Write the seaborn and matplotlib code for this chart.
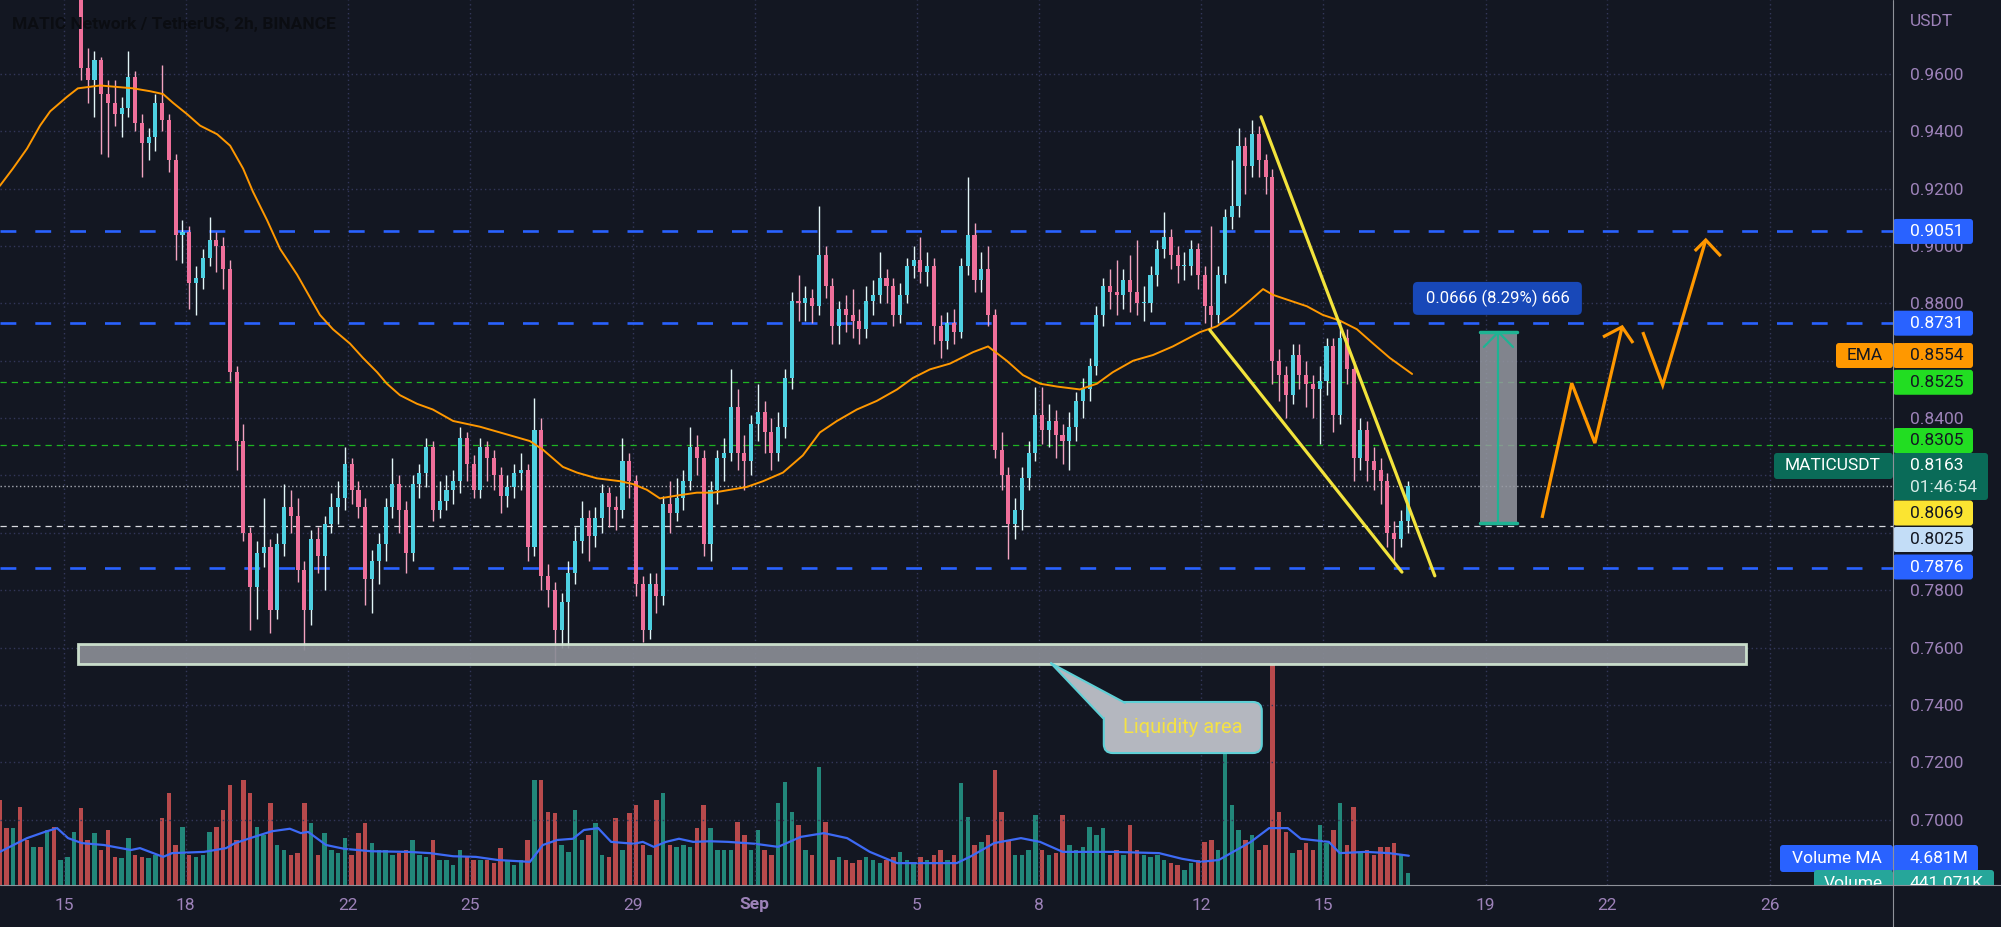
"""
MATIC / USDT 2h chart (TradingView style) rebuilt with seaborn + matplotlib.
Candles are read off the screenshot and kept at 4h resolution.
"""

import numpy as np
import pandas as pd
import seaborn as sns
import matplotlib.pyplot as plt
import matplotlib.dates as mdates
from matplotlib.patches import FancyBboxPatch, Polygon, Rectangle
from matplotlib.lines import Line2D

# -------------------------------
# Data
# -------------------------------
first_open = 0.995
candle_start = "2021-08-15 10:00"   # centre of first 4h candle

close = [
    0.962, 0.958, 0.965, 0.953, 0.950, 0.946, 0.948, 0.959, 0.943, 0.936,
    0.938, 0.950, 0.944, 0.930, 0.904, 0.905, 0.887, 0.889, 0.896, 0.902,
    0.900, 0.892, 0.856, 0.832, 0.800, 0.781, 0.793, 0.795, 0.773, 0.796,
    0.809, 0.806, 0.787, 0.773, 0.798, 0.792, 0.803, 0.809, 0.812, 0.824,
    0.815, 0.809, 0.784, 0.790, 0.796, 0.809, 0.817, 0.808, 0.793, 0.817,
    0.821, 0.830, 0.808, 0.811, 0.815, 0.818, 0.833, 0.824, 0.815, 0.830,
    0.826, 0.820, 0.813, 0.816, 0.821, 0.822, 0.795, 0.836, 0.785, 0.780,
    0.766, 0.776, 0.786, 0.797, 0.805, 0.799, 0.805, 0.814, 0.809, 0.808,
    0.825, 0.818, 0.782, 0.766, 0.782, 0.778, 0.810, 0.807, 0.812, 0.818,
    0.830, 0.826, 0.796, 0.815, 0.826, 0.828, 0.844, 0.828, 0.825, 0.838,
    0.842, 0.835, 0.828, 0.837, 0.854, 0.881, 0.880, 0.882, 0.879, 0.897,
    0.886, 0.872, 0.878, 0.876, 0.874, 0.871, 0.881, 0.883, 0.889, 0.886,
    0.876, 0.883, 0.893, 0.895, 0.891, 0.893, 0.872, 0.867, 0.873, 0.870,
    0.893, 0.904, 0.888, 0.892, 0.876, 0.829, 0.820, 0.803, 0.808, 0.819,
    0.828, 0.841, 0.836, 0.839, 0.834, 0.832, 0.837, 0.846, 0.850, 0.858,
    0.876, 0.886, 0.884, 0.883, 0.888, 0.884, 0.880, 0.880, 0.890, 0.899,
    0.903, 0.897, 0.893, 0.893, 0.899, 0.890, 0.879, 0.876, 0.890, 0.910,
    0.914, 0.935, 0.928, 0.939, 0.930, 0.924, 0.860, 0.855, 0.848, 0.862,
    0.855, 0.852, 0.850, 0.853, 0.865, 0.841, 0.868, 0.857, 0.826, 0.836,
    0.825, 0.822, 0.818, 0.800, 0.798, 0.804, 0.8163,
]

high = [
    1.000, 0.969, 0.968, 0.966, 0.958, 0.958, 0.952, 0.968, 0.961, 0.946,
    0.941, 0.953, 0.963, 0.946, 0.932, 0.909, 0.907, 0.893, 0.899, 0.910,
    0.905, 0.903, 0.895, 0.858, 0.838, 0.802, 0.797, 0.812, 0.798, 0.800,
    0.817, 0.815, 0.812, 0.790, 0.801, 0.802, 0.806, 0.814, 0.818, 0.830,
    0.826, 0.818, 0.812, 0.794, 0.800, 0.812, 0.826, 0.820, 0.811, 0.820,
    0.824, 0.833, 0.832, 0.818, 0.820, 0.822, 0.837, 0.835, 0.827, 0.833,
    0.832, 0.829, 0.823, 0.820, 0.824, 0.828, 0.824, 0.847, 0.840, 0.789,
    0.783, 0.779, 0.790, 0.802, 0.811, 0.808, 0.809, 0.817, 0.816, 0.813,
    0.833, 0.828, 0.820, 0.785, 0.786, 0.786, 0.813, 0.818, 0.819, 0.822,
    0.837, 0.834, 0.829, 0.818, 0.829, 0.833, 0.857, 0.850, 0.834, 0.841,
    0.852, 0.846, 0.840, 0.842, 0.857, 0.884, 0.890, 0.886, 0.885, 0.914,
    0.900, 0.889, 0.881, 0.883, 0.885, 0.878, 0.886, 0.888, 0.898, 0.892,
    0.889, 0.887, 0.896, 0.900, 0.903, 0.898, 0.896, 0.876, 0.877, 0.878,
    0.896, 0.924, 0.908, 0.898, 0.900, 0.878, 0.835, 0.823, 0.812, 0.823,
    0.832, 0.851, 0.851, 0.845, 0.843, 0.838, 0.842, 0.849, 0.854, 0.861,
    0.879, 0.889, 0.892, 0.895, 0.892, 0.897, 0.902, 0.886, 0.893, 0.902,
    0.912, 0.906, 0.900, 0.898, 0.902, 0.901, 0.893, 0.907, 0.893, 0.913,
    0.930, 0.941, 0.938, 0.944, 0.942, 0.932, 0.927, 0.864, 0.858, 0.866,
    0.866, 0.860, 0.855, 0.858, 0.868, 0.868, 0.874, 0.871, 0.860, 0.840,
    0.839, 0.830, 0.826, 0.821, 0.804, 0.808, 0.818,
]

low = [
    0.958, 0.950, 0.945, 0.932, 0.931, 0.942, 0.938, 0.945, 0.940, 0.924,
    0.930, 0.933, 0.940, 0.926, 0.895, 0.894, 0.878, 0.876, 0.885, 0.893,
    0.891, 0.885, 0.853, 0.822, 0.797, 0.766, 0.770, 0.788, 0.765, 0.770,
    0.792, 0.800, 0.783, 0.759, 0.768, 0.786, 0.780, 0.800, 0.803, 0.808,
    0.810, 0.805, 0.775, 0.772, 0.782, 0.790, 0.805, 0.800, 0.786, 0.790,
    0.812, 0.816, 0.804, 0.805, 0.808, 0.810, 0.814, 0.818, 0.812, 0.812,
    0.818, 0.815, 0.807, 0.809, 0.812, 0.815, 0.790, 0.792, 0.780, 0.774,
    0.754, 0.760, 0.760, 0.782, 0.793, 0.790, 0.795, 0.800, 0.802, 0.801,
    0.805, 0.812, 0.778, 0.762, 0.763, 0.772, 0.775, 0.800, 0.804, 0.808,
    0.815, 0.820, 0.792, 0.790, 0.810, 0.818, 0.825, 0.822, 0.815, 0.820,
    0.832, 0.828, 0.822, 0.825, 0.833, 0.850, 0.874, 0.874, 0.873, 0.876,
    0.882, 0.866, 0.866, 0.870, 0.868, 0.866, 0.868, 0.876, 0.880, 0.880,
    0.872, 0.873, 0.880, 0.889, 0.887, 0.886, 0.866, 0.861, 0.864, 0.866,
    0.868, 0.890, 0.884, 0.884, 0.872, 0.826, 0.815, 0.791, 0.798, 0.801,
    0.815, 0.825, 0.831, 0.830, 0.826, 0.824, 0.822, 0.832, 0.840, 0.846,
    0.855, 0.872, 0.878, 0.876, 0.878, 0.877, 0.876, 0.874, 0.877, 0.886,
    0.896, 0.892, 0.887, 0.888, 0.890, 0.885, 0.873, 0.871, 0.873, 0.887,
    0.906, 0.910, 0.918, 0.924, 0.924, 0.918, 0.852, 0.846, 0.840, 0.845,
    0.850, 0.844, 0.840, 0.831, 0.848, 0.835, 0.838, 0.852, 0.818, 0.822,
    0.818, 0.815, 0.810, 0.795, 0.790, 0.795, 0.800,
]

# volume in millions
volume = [
    12.3, 7.2, 8.3, 5.6, 8.8, 4.5, 4.3, 7.5, 4.8, 4.5,
    4.3, 4.8, 10.7, 14.7, 6.4, 9.3, 4.8, 4.5, 4.8, 8.5,
    9.3, 12.0, 16.0, 7.2, 16.8, 14.7, 9.3, 8.0, 13.1, 6.4,
    5.6, 4.8, 5.1, 13.1, 9.9, 4.8, 8.3, 5.6, 5.1, 7.5,
    4.8, 8.3, 9.9, 6.7, 5.6, 5.6, 4.8, 5.1, 5.6, 7.2,
    4.8, 4.5, 7.2, 4.0, 4.0, 3.2, 5.6, 4.5, 4.0, 4.0,
    4.0, 3.5, 5.9, 4.0, 3.2, 4.0, 7.2, 16.8, 16.8, 11.7,
    11.5, 6.4, 5.3, 12.0, 7.2, 8.0, 9.9, 4.8, 4.5, 10.7,
    5.6, 11.5, 12.8, 6.4, 4.8, 13.6, 14.7, 6.4, 6.1, 6.4,
    6.1, 9.1, 12.8, 9.1, 5.6, 5.6, 5.6, 10.1, 8.0, 5.6,
    8.8, 5.6, 4.8, 13.1, 16.5, 11.7, 9.6, 5.6, 4.8, 18.9,
    10.1, 4.0, 4.5, 4.0, 3.5, 4.0, 4.5, 4.0, 3.5, 4.0,
    4.5, 5.3, 4.0, 3.5, 4.5, 4.0, 4.8, 5.6, 4.0, 4.8,
    16.3, 10.9, 6.4, 6.9, 8.0, 18.4, 11.7, 7.2, 4.8, 4.8,
    5.6, 11.2, 5.6, 4.8, 5.1, 11.2, 6.4, 5.6, 6.1, 9.3,
    8.0, 9.1, 4.8, 5.6, 4.8, 9.6, 5.6, 4.8, 4.5, 4.8,
    4.0, 3.5, 3.2, 2.4, 3.5, 4.0, 6.9, 7.2, 5.6, 21.6,
    12.8, 8.8, 7.2, 8.0, 5.6, 6.4, 35.2, 11.7, 8.5, 5.1,
    5.6, 6.7, 5.6, 9.6, 6.7, 8.8, 13.1, 6.4, 12.5, 5.1,
    5.6, 4.8, 6.1, 6.1, 6.7, 4.8, 1.9,
]

# volume of the earlier bars whose candles sit above the visible range
pre_start = "2021-08-13 10:00"
pre_volume = [13.6, 9.1, 9.1, 12.5, 7.2, 6.1, 6.1, 8.8, 9.3, 4.0, 4.5, 8.5]
pre_up = [0, 0, 1, 0, 0, 1, 0, 1, 0, 1, 1, 1]

# EMA and Volume MA, days counted from 15 Aug 00:00
ema_day = [-1.58, -1.26, -0.91, -0.59, -0.34, 0.07, 0.34, 0.89, 1.70, 2.12,
           2.44, 2.68, 3.03, 3.35, 3.77, 4.09, 4.41, 4.65, 5.00, 5.32,
           5.74, 6.06, 6.30, 6.62, 7.04, 7.36, 7.71, 7.95, 8.27, 8.69,
           9.08, 9.58, 10.24, 10.98, 11.47, 11.79, 12.28, 12.63, 13.12, 13.69,
           14.01, 14.35, 14.67, 15.09, 15.58, 15.98, 16.40, 16.81, 17.21, 17.70,
           18.19, 18.61, 19.03, 19.52, 20.01, 20.51, 20.90, 21.32, 21.81, 22.38,
           22.75, 23.21, 23.61, 24.03, 24.45, 25.01, 25.43, 25.82, 26.32, 26.81,
           27.30, 27.97, 28.38, 28.78, 29.20, 29.52, 29.76, 30.18, 30.60, 30.99,
           31.41, 31.83, 32.23, 32.64, 33.19]
ema_val = [0.921, 0.927, 0.934, 0.942, 0.947, 0.952, 0.955, 0.956, 0.955, 0.954,
           0.953, 0.950, 0.946, 0.942, 0.939, 0.935, 0.927, 0.919, 0.909, 0.899,
           0.890, 0.882, 0.876, 0.871, 0.866, 0.861, 0.856, 0.852, 0.848, 0.845,
           0.843, 0.839, 0.837, 0.834, 0.832, 0.829, 0.823, 0.821, 0.819, 0.818,
           0.817, 0.815, 0.812, 0.813, 0.814, 0.814, 0.815, 0.816, 0.818, 0.821,
           0.827, 0.835, 0.839, 0.843, 0.846, 0.850, 0.854, 0.857, 0.859, 0.863,
           0.865, 0.860, 0.855, 0.852, 0.851, 0.850, 0.852, 0.856, 0.860, 0.862,
           0.865, 0.870, 0.872, 0.876, 0.881, 0.885, 0.883, 0.881, 0.879, 0.876,
           0.874, 0.871, 0.866, 0.861, 0.8554]

vma_day = [-1.58, -0.91, -0.47, -0.17, 0.10, 0.44, 0.98, 1.65, 1.87, 2.44,
           2.66, 3.45, 3.99, 4.21, 4.68, 5.12, 5.56, 5.83, 6.01, 6.45,
           6.89, 7.56, 8.47, 9.01, 9.58, 10.14, 10.68, 11.47, 11.79, 12.14,
           12.53, 12.80, 13.15, 13.47, 14.03, 14.25, 14.52, 14.82, 15.14, 15.49,
           15.90, 16.35, 17.01, 17.58, 18.14, 18.71, 19.28, 19.84, 20.51, 21.98,
           22.33, 22.90, 23.56, 24.03, 24.59, 25.82, 26.96, 27.52, 27.97, 28.43,
           29.22, 29.67, 30.13, 30.45, 31.14, 31.41, 32.05, 32.62, 33.11]
vma_val = [5.3, 7.5, 8.5, 9.1, 7.5, 6.7, 6.4, 5.6, 5.9, 4.5,
           5.1, 5.3, 5.9, 6.7, 7.7, 8.6, 9.0, 8.3, 8.5, 6.4,
           5.8, 5.4, 5.3, 5.1, 4.6, 4.5, 4.0, 3.7, 6.4, 7.2,
           7.4, 8.8, 9.1, 6.9, 6.6, 6.9, 6.1, 6.9, 7.4, 6.9,
           7.0, 6.9, 6.6, 6.1, 7.7, 8.3, 7.5, 5.3, 3.5, 3.5,
           4.6, 6.7, 7.5, 6.9, 5.3, 5.3, 5.1, 4.2, 3.7, 4.0,
           6.9, 9.1, 9.1, 7.4, 6.9, 5.1, 5.3, 5.1, 4.681]

# horizontal levels
blue_levels = [0.9051, 0.8731, 0.7876]
green_levels = [0.8525, 0.8305]
white_level = 0.8025
last_price = 0.8163

# axis ticks (labels hidden where a price tag covers them)
y_ticks = [0.70, 0.72, 0.74, 0.76, 0.78, 0.80, 0.82, 0.84, 0.86, 0.88, 0.90, 0.92, 0.94, 0.96]
y_hidden = [0.80, 0.82, 0.86]
x_tick_day = [0, 3, 7, 10, 14, 17, 21, 24, 28, 31, 35, 38, 42]
x_tick_lab = ["15", "18", "22", "25", "29", "Sep", "5", "8", "12", "15", "19", "22", "26"]

# drawings (day, price)
wedge_top = ([29.47, 33.75], [0.9451, 0.7850])
wedge_bottom = ([28.21, 32.94], [0.8707, 0.7863])
liquidity_day = [0.345, 41.41]
liquidity_price = [0.7543, 0.7612]
callout_day = [25.60, 29.49]
callout_price = [0.7232, 0.7410]
callout_tail = ([24.30, 25.58, 26.12], [0.7545, 0.7354, 0.7407])
measure_day = [34.86, 35.77]
measure_price = [0.8034, 0.8700]
measure_tag_day = [33.21, 37.37]
measure_tag_price = [0.8760, 0.8875]
zig1 = ([36.39, 37.12, 37.69, 38.36], [0.8052, 0.8522, 0.8313, 0.8718])
zig1_head = ([37.89, 38.36, 38.63], [0.8683, 0.8718, 0.8662])
zig2 = ([38.87, 39.36, 40.42], [0.8700, 0.8515, 0.9021])
zig2_head = ([40.15, 40.42, 40.79], [0.8983, 0.9021, 0.8965])

# -------------------------------
# Colours / frame
# -------------------------------
BG = "#131722"
GRID = "#33375a"
TXT = "#9d82b9"
BLUE = "#2962ff"
ORANGE = "#ff9800"
LIME = "#22dd22"
C_UP, C_DN = "#4dd0e1", "#ef6f9a"
W_UP, W_DN = "#e3f6f8", "#f3a3c0"
V_UP, V_DN = "#22877a", "#b84a4c"

W, H = 2001, 927
PLOT_R, PLOT_B = 1893, 885
P_BOT, P_TOP = 0.67718, 0.98581
BASE = mdates.date2num(pd.Timestamp("2021-08-15"))


def dnum(days):
    return BASE + np.asarray(days, dtype=float)


df = pd.DataFrame({
    "time": pd.date_range(candle_start, periods=len(close), freq="4h"),
    "close": close, "high": high, "low": low, "volume": volume,
})
df["open"] = df["close"].shift(1).fillna(first_open)
df["x"] = mdates.date2num(df["time"])
up = (df["close"] >= df["open"]).to_numpy()

sns.set_theme(style="dark", rc={"axes.facecolor": BG, "figure.facecolor": BG})
plt.rcParams["font.family"] = ["Roboto", "DejaVu Sans"]

fig = plt.figure(figsize=(W / 100, H / 100), dpi=100)
fig.patch.set_facecolor(BG)
rect = [0, 1 - PLOT_B / H, PLOT_R / W, PLOT_B / H]
vax = fig.add_axes(rect)
ax = fig.add_axes(rect, sharex=vax)
ax.patch.set_visible(False)
vax.set_facecolor(BG)

# -------------------------------
# Volume pane
# -------------------------------
pre_x = mdates.date2num(pd.date_range(pre_start, periods=len(pre_volume), freq="4h"))
vax.bar(pre_x, pre_volume, width=0.11, linewidth=0,
        color=[V_UP if u else V_DN for u in pre_up])
vax.bar(df["x"], df["volume"], width=0.11, linewidth=0,
        color=np.where(up, V_UP, V_DN))
sns.lineplot(x=dnum(vma_day), y=vma_val, ax=vax, color="#3d6af5", lw=1.6)
vax.set_ylim(0, 141.6)
vax.set_yticks([])
vax.tick_params(axis="x", length=0, labelbottom=False)
vax.set_xlabel("")
vax.set_ylabel("")
for s in vax.spines.values():
    s.set_visible(False)

# -------------------------------
# Candles + EMA
# -------------------------------
ax.vlines(df["x"], df["low"], df["high"], colors=np.where(up, W_UP, W_DN), lw=1, zorder=3)
body_lo = np.minimum(df["open"], df["close"])
body_h = np.maximum((df["close"] - df["open"]).abs(), 0.0005)
ax.bar(df["x"], body_h, bottom=body_lo, width=0.1, linewidth=0,
       color=np.where(up, C_UP, C_DN), zorder=4)
sns.lineplot(x=dnum(ema_day), y=ema_val, ax=ax, color=ORANGE, lw=1.4, zorder=5)

# levels
for lv in blue_levels:
    ax.axhline(lv, color=BLUE, lw=1.9, ls=(0, (6, 7.2)), zorder=2)
for lv in green_levels:
    ax.axhline(lv, color=LIME, lw=0.9, ls=(0, (5, 4)), alpha=0.8, zorder=2)
ax.axhline(white_level, color="#d8dae0", lw=0.9, ls=(0, (5, 4)), zorder=2)
ax.axhline(last_price, color="#a9acb5", lw=1.0, ls=(0, (1, 1.8)), zorder=2)

# liquidity box + callout
ax.add_patch(Rectangle((dnum(liquidity_day[0]), liquidity_price[0]),
                       liquidity_day[1] - liquidity_day[0],
                       liquidity_price[1] - liquidity_price[0],
                       fc="#8a8d95", ec="#d5ead6", lw=2, alpha=0.92, zorder=6))
ax.add_patch(FancyBboxPatch((dnum(callout_day[0]), callout_price[0]),
                            callout_day[1] - callout_day[0],
                            callout_price[1] - callout_price[0],
                            boxstyle="round,pad=0,rounding_size=0.22", mutation_aspect=0.0143,
                            fc="#b4b7bf", ec="#5fd0d6", lw=1.5, zorder=8))
tail_x = dnum(callout_tail[0])
ax.add_patch(Polygon(list(zip(tail_x, callout_tail[1])), closed=True,
                     fc="#b4b7bf", ec="none", zorder=9))
for k in (1, 2):
    ax.plot([tail_x[0], tail_x[k]], [callout_tail[1][0], callout_tail[1][k]],
            color="#5fd0d6", lw=1.5, zorder=9.5, solid_capstyle="round")
ax.text(dnum(np.mean(callout_day)), np.mean(callout_price), "Liquidity area",
        color="#f4e245", fontsize=14.5, ha="center", va="center", zorder=10)

# falling wedge
ax.plot(dnum(wedge_top[0]), wedge_top[1], color="#f2e33c", lw=2.3, zorder=7)
ax.plot(dnum(wedge_bottom[0]), wedge_bottom[1], color="#f2e33c", lw=2.3, zorder=7)

# price range measurement
mx0, mx1 = dnum(measure_day)
mxc = (mx0 + mx1) / 2
ax.add_patch(Rectangle((mx0, measure_price[0]), mx1 - mx0,
                       measure_price[1] - measure_price[0],
                       fc="#9598a1", ec="none", alpha=0.85, zorder=6))
TEAL = "#1fb393"
ax.plot([mx0, mx1], [measure_price[0]] * 2, color=TEAL, lw=2.5, zorder=7)
ax.plot([mx0, mx1], [measure_price[1]] * 2, color=TEAL, lw=2.5, zorder=7)
ax.plot([mxc, mxc], measure_price, color=TEAL, lw=1.6, zorder=7)
ax.plot([mxc - 0.36, mxc, mxc + 0.36], [measure_price[1] - 0.0052, measure_price[1],
        measure_price[1] - 0.0052], color=TEAL, lw=1.6, zorder=7)
ax.add_patch(FancyBboxPatch((dnum(measure_tag_day[0]), measure_tag_price[0]),
                            measure_tag_day[1] - measure_tag_day[0],
                            measure_tag_price[1] - measure_tag_price[0],
                            boxstyle="round,pad=0,rounding_size=0.12", mutation_aspect=0.0143,
                            fc="#1848b8", ec="none", zorder=8))
ax.text(dnum(np.mean(measure_tag_day)), np.mean(measure_tag_price), "0.0666 (8.29%) 666",
        color="white", fontsize=12, ha="center", va="center", zorder=9)

# projected path
for path in (zig1, zig1_head, zig2, zig2_head):
    ax.plot(dnum(path[0]), path[1], color=ORANGE, lw=2.3, zorder=7,
            solid_joinstyle="miter", solid_capstyle="butt")

# -------------------------------
# Axes styling
# -------------------------------
ax.set_xlim(dnum(-1.576), dnum(45.03))
ax.set_ylim(P_BOT, P_TOP)
ax.set_xlabel("")
ax.set_ylabel("")
ax.yaxis.tick_right()
ax.set_yticks(y_ticks)
ax.yaxis.set_major_formatter(
    lambda v, pos: "" if any(abs(v - h) < 1e-6 for h in y_hidden) else f"{v:.4f}")
ax.set_xticks(dnum(x_tick_day))
ax.set_xticklabels(x_tick_lab)
ax.get_xticklabels()[5].set_fontweight("bold")
ax.tick_params(axis="y", length=0, pad=12, labelsize=12.5, labelcolor=TXT)
ax.tick_params(axis="x", length=0, pad=9, labelsize=12.5, labelcolor=TXT)
ax.grid(True, color=GRID, ls=(0, (1, 2.2)), lw=1)
ax.set_axisbelow(True)
for s in ax.spines.values():
    s.set_visible(False)

fig.add_artist(Line2D([PLOT_R / W] * 2, [0, 1], transform=fig.transFigure, color="#8f929a", lw=0.8))
fig.add_artist(Line2D([0, 1], [1 - PLOT_B / H] * 2, transform=fig.transFigure, color="#8f929a", lw=0.8))

fig.text(12 / W, 1 - 25 / H, "MATIC Network / TetherUS, 2h, BINANCE",
         color="#0b0d12", fontsize=12.5, fontweight="bold", va="center")

# -------------------------------
# Price-scale tags (pixel overlay)
# -------------------------------
lab = fig.add_axes([0, 1 - PLOT_B / H, 1, PLOT_B / H])
lab.set_xlim(0, W)
lab.set_ylim(PLOT_B, 0)
lab.axis("off")
lab.patch.set_visible(False)


def py(p):
    return (P_TOP - p) / (P_TOP - P_BOT) * PLOT_B


def tag(x0, x1, yc, text, fc, tc, h=25, tx=None, ha="left"):
    lab.add_patch(FancyBboxPatch((x0, yc - h / 2), x1 - x0, h,
                                 boxstyle="round,pad=0,rounding_size=3", fc=fc, ec="none"))
    if text:
        lab.text(x0 + 17 if tx is None else tx, yc, text, color=tc, fontsize=12.5,
                 ha=ha, va="center", clip_on=True)


lab.text(1910, 21, "USDT", color=TXT, fontsize=12.5, va="center")
tag(PLOT_R, 1973, py(0.9051), "0.9051", BLUE, "white")
tag(PLOT_R, 1973, py(0.8731), "0.8731", BLUE, "white")
tag(1836, PLOT_R, 355.5, "EMA", ORANGE, "#131722", tx=1864.5, ha="center")
tag(PLOT_R, 1973, 355.5, "0.8554", ORANGE, "#131722")
tag(PLOT_R, 1973, py(0.8525), "0.8525", LIME, "#131722")
tag(PLOT_R, 1973, 440.5, "0.8305", LIME, "#131722")
tag(1774, PLOT_R, 466, "MATICUSDT", "#0a6b58", "white", h=26, tx=1833, ha="center")
tag(PLOT_R, 1988, 476.5, "", "#0a6b58", "white", h=47)
lab.text(1910, 466, "0.8163", color="white", fontsize=12.5, va="center")
lab.text(1910, 488, "01:46:54", color="#d8ece8", fontsize=12.5, va="center")
tag(PLOT_R, 1973, py(0.8069), "0.8069", "#fbe431", "#131722")
tag(PLOT_R, 1973, 539.5, "0.8025", "#c3ddf7", "#131722")
tag(PLOT_R, 1973, 567, "0.7876", BLUE, "white")
tag(1780, PLOT_R, 858.5, "Volume MA", BLUE, "white", h=27, tx=1836.5, ha="center")
tag(PLOT_R, 1978, 858.5, "4.681M", BLUE, "white", h=27)
tag(1814, PLOT_R, 884, "Volume", "#26a69a", "white", h=28, tx=1853.5, ha="center")
tag(PLOT_R, 1994, 884, "441.071K", "#26a69a", "white", h=28)

fig.savefig("out.png", dpi=100, facecolor=BG)
plt.close(fig)
